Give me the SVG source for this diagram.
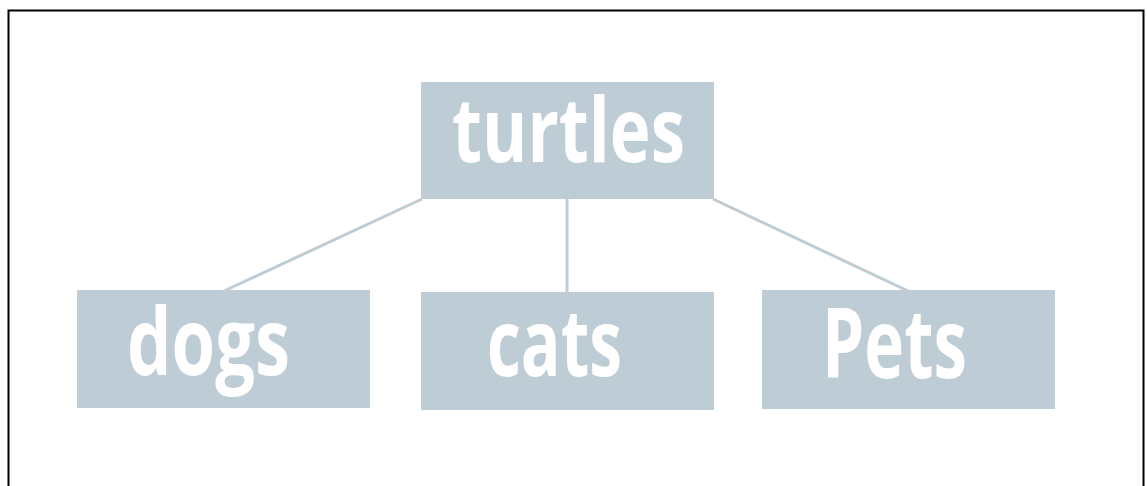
<svg xmlns="http://www.w3.org/2000/svg" width="1147" height="486" viewBox="0 0 1147 486">
<style>
.box{fill:#BDCCD5}
.lbl{fill:#FFFFFF;font-family:"Open Sans","Liberation Sans",sans-serif;font-weight:bold}
.conn{stroke:#BDCCD5;stroke-width:3;fill:none}
</style>
<rect x="0" y="0" width="1147" height="486" fill="#FFFFFF"/>
<rect x="8.5" y="10.5" width="1135" height="490" fill="none" stroke="#000000" stroke-width="2"/>
<g id="connectors">
<line class="conn" x1="422" y1="199" x2="224" y2="291"/>
<line class="conn" x1="567" y1="199" x2="567" y2="293"/>
<line class="conn" x1="713" y1="199" x2="908" y2="291"/>
</g>
<g id="turtles">
<rect class="box" x="421" y="82" width="293" height="117"/>
<text class="lbl" x="452" y="162" font-size="90" textLength="233" lengthAdjust="spacingAndGlyphs">turtles</text>
</g>
<g id="dogs">
<rect class="box" x="77" y="290" width="293" height="118"/>
<text class="lbl" x="127" y="375" font-size="94" textLength="163" lengthAdjust="spacingAndGlyphs">dogs</text>
</g>
<g id="cats">
<rect class="box" x="421" y="292" width="293" height="118"/>
<text class="lbl" x="487" y="376" font-size="94" textLength="135" lengthAdjust="spacingAndGlyphs">cats</text>
</g>
<g id="Pets">
<rect class="box" x="762" y="290" width="293" height="119"/>
<text class="lbl" x="822" y="378" font-size="96" textLength="145" lengthAdjust="spacingAndGlyphs">Pets</text>
</g>
</svg>
